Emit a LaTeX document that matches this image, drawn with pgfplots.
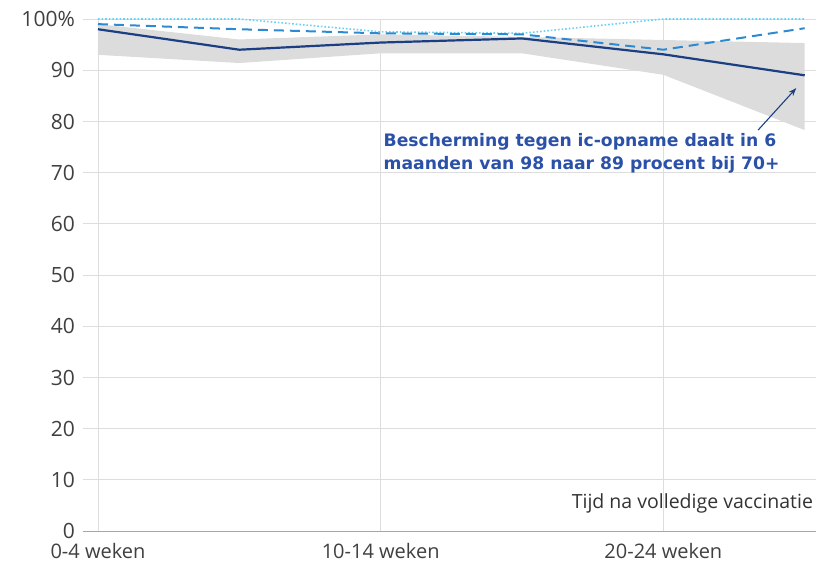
\documentclass[border=0pt]{standalone}
\usepackage{pgfplots}
\pgfplotsset{compat=1.18}
\usetikzlibrary{arrows.meta}
\usepackage{fontspec}
\setmainfont{Open Sans}
\newfontfamily\annotfont{DejaVu Sans}
\definecolor{navy}{HTML}{1B3F82}
\definecolor{midblue}{HTML}{2C8AD2}
\definecolor{lightcyan}{HTML}{6CD0F0}
\definecolor{band}{HTML}{DCDCDC}
\definecolor{annot}{HTML}{2A50A8}
\definecolor{gridc}{HTML}{DDDDDD}
\begin{document}
\begin{tikzpicture}
\useasboundingbox (-83pt,-35pt) rectangle (735pt,531pt);
\begin{axis}[
  scale only axis,
  width=733pt, height=512pt,
  xmin=-0.106, xmax=5.08,
  ymin=0, ymax=100,
  axis x line=bottom,
  axis y line=left,
  x axis line style={black!35, line width=1pt, -},
  y axis line style={draw=none},
  xtick={0,2,4},
  xticklabels={0-4 weken,10-14 weken,20-24 weken},
  ytick={0,10,...,100},
  yticklabels={0,10,20,30,40,50,60,70,80,90,100\%},
  xmajorgrids, ymajorgrids,
  grid style={gridc, line width=0.8pt},
  /pgf/number format/assume math mode=true,
  xticklabel style={font=\fontsize{20}{24}\selectfont, text=black!75, inner sep=0pt, text depth=0pt, yshift=-12pt},
  yticklabel style={font=\fontsize{21}{24}\selectfont, text=black!75, inner sep=0pt, text depth=0pt, xshift=-8pt},
  major tick length=0pt,
  clip=false,
]
% confidence band
\addplot[fill=band, draw=none, forget plot] coordinates {(0,99) (1,96) (2,97) (3,96.5) (4,95.9) (5,95.3) (5,78.3) (4,89.1) (3,93.3) (2,93.3) (1,91.4) (0,93)} -- cycle;
% dotted
\addplot[lightcyan, line width=1.6pt, dotted, mark=none] coordinates {(0,100) (1,100) (2,97.5) (3,97.2) (4,100) (5,100)};
% dashed
\addplot[midblue, line width=2pt, dash pattern=on 10pt off 6pt, mark=none] coordinates {(0,99) (1,98) (2,97.2) (3,97) (4,94) (5,98.2)};
% solid
\addplot[navy, line width=2.2pt, mark=none] coordinates {(0,98) (1,94) (2,95.4) (3,96.2) (4,93.1) (5,89)};
% annotation
\node[anchor=west, align=left, text=annot, font=\annotfont\fontsize{17.2}{23}\selectfont\bfseries, inner sep=0pt] at (axis cs:2.02,73.7) {Bescherming tegen ic-opname daalt in 6\\maanden van 98 naar 89 procent bij 70+};
\draw[navy, line width=1.1pt, -{Stealth[length=8pt,width=6pt]}] (axis cs:4.67,78.3) -- (axis cs:4.94,86.5);
\node[anchor=east, inner sep=0pt, text=black!80, font=\fontsize{19.5}{22}\selectfont] at (axis cs:5.06,5.3) {Tijd na volledige vaccinatie};
\end{axis}
\end{tikzpicture}
\end{document}
